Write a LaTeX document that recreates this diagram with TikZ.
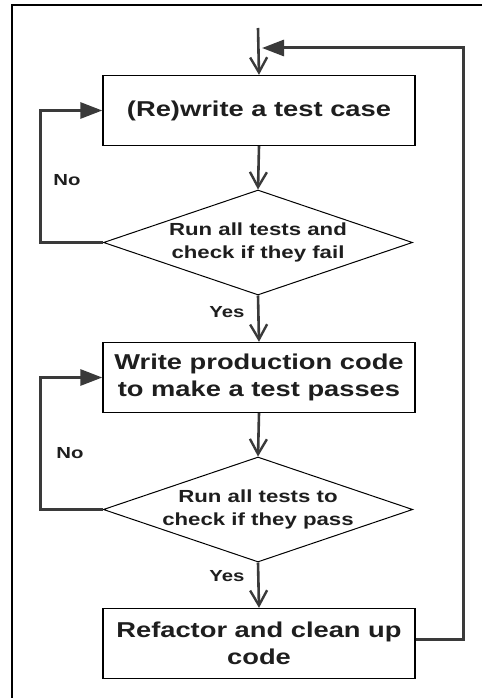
\documentclass[tikz,border=0pt]{standalone}
\usepackage{fontspec}
\setmainfont{Liberation Sans}
\usetikzlibrary{shapes.geometric,arrows.meta}
\definecolor{ink}{HTML}{1E1E1E}
\definecolor{wire}{HTML}{3A3A3A}
\newcommand{\wideline}[1]{\scalebox{1.27}[1]{#1}}
\tikzset{
  procbox/.style={draw=black,line width=1.4pt,rectangle,minimum width=312pt,minimum height=70pt,inner sep=0pt,align=center,font=\bfseries\fontsize{21.5}{27}\selectfont,text=ink},
  decide/.style={draw=black,line width=1pt,diamond,minimum width=309pt,minimum height=105pt,inner sep=0pt,aspect=3,align=center,font=\bfseries\fontsize{17.5}{23}\selectfont,text=ink},
  flow/.style={draw=wire,line width=2.6pt,-{Straight Barb[length=15pt,width=17pt,line width=2.4pt]}},
  loopline/.style={draw=wire,line width=3pt,-{Triangle[length=22pt,width=16pt]}},
  lbl/.style={font=\bfseries\fontsize{16}{19}\selectfont,text=ink,inner sep=0pt}
}
\begin{document}
\begin{tikzpicture}[x=1pt,y=-1pt]
\useasboundingbox (0,0) rectangle (482,698);
\fill[white] (0,0) rectangle (482,698);
\draw[line width=2pt,black] (12,698) -- (12,5) -- (482,5);

\node[procbox] (b1) at (259,110.5) {\wideline{(Re)write a test case}};
\node[decide] (d1) at (258,242.5) {\wideline{Run all tests and}\\\wideline{check if they fail}};
\node[procbox] (b2) at (259,377.5) {\wideline{Write production code}\\\wideline{to make a test passes}};
\node[decide] (d2) at (258,509.5) {\wideline{Run all tests to}\\\wideline{check if they pass}};
\node[procbox] (b3) at (259,643.5) {\wideline{Refactor and clean up}\\\wideline{code}};

\coordinate (start) at (258,28);
\coordinate (fbtip) at (262,48);

\draw[flow] (start) -- (b1.north);
\draw[flow] (b1.south) -- (d1.north);
\draw[flow] (d1.south) -- (b2.north);
\draw[flow] (b2.south) -- (d2.north);
\draw[flow] (d2.south) -- (b3.north);

\draw[loopline] (d1.west) -- (40,242.5) |- (b1.west);
\draw[loopline] (d2.west) -- (40,509.5) |- (b2.west);
\draw[loopline] ([yshift=4pt]b3.east) -| (463,48) -- (fbtip);

\node[lbl] (no1) at (67,180) {\wideline{No}};
\node[lbl] (yes1) at (227,312) {\wideline{Yes}};
\node[lbl] (no2) at (70,453) {\wideline{No}};
\node[lbl] (yes2) at (227,576) {\wideline{Yes}};
\end{tikzpicture}
\end{document}
